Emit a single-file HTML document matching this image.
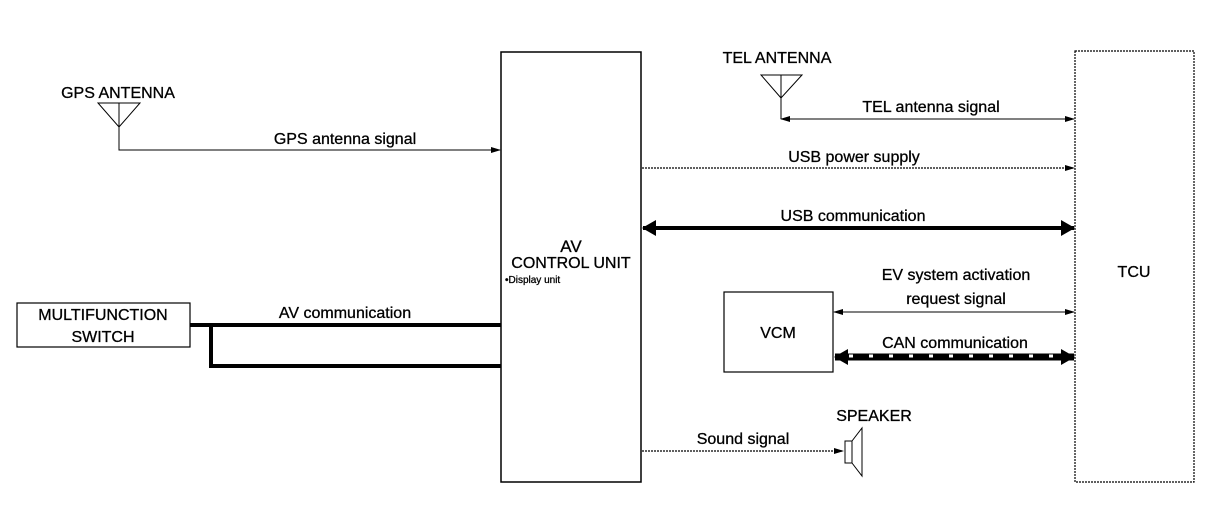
<!DOCTYPE html>
<html><head><meta charset="utf-8"><style>
html,body{margin:0;padding:0;background:#fff;}
svg text{font-family:"Liberation Sans",Arial,sans-serif;fill:#000;stroke:#000;stroke-width:0.3;}
</style></head><body>
<svg width="1216" height="512" viewBox="0 0 1216 512" xmlns="http://www.w3.org/2000/svg">
<defs>
<marker id="a" markerWidth="10" markerHeight="8" refX="9" refY="4" orient="auto-start-reverse" markerUnits="userSpaceOnUse"><path d="M0,1 L10,4 L0,7 Z" fill="#000"/></marker>
<marker id="b" markerWidth="14" markerHeight="16" refX="13" refY="8" orient="auto-start-reverse" markerUnits="userSpaceOnUse"><path d="M0,0 L14,8 L0,16 Z" fill="#000"/></marker>
</defs>
<rect x="501" y="52" width="140" height="430" fill="none" stroke="#000" stroke-width="1.5"/>
<text x="571" y="252" font-size="17" text-anchor="middle">AV</text>
<text x="571" y="268" font-size="16" text-anchor="middle">CONTROL UNIT</text>
<text x="505" y="283" font-size="10">•Display unit</text>
<rect x="1075" y="51" width="119" height="431" fill="none" stroke="#000" stroke-width="1.2" stroke-dasharray="2,1"/>
<text x="1134" y="277" font-size="16" text-anchor="middle">TCU</text>
<text x="118" y="98" font-size="16" text-anchor="middle">GPS ANTENNA</text>
<path d="M98,103 L140,103 L119,127 Z M119,103 L119,127" fill="none" stroke="#000" stroke-width="1"/>
<path d="M119,127 L119,150 L500,150" fill="none" stroke="#000" stroke-width="1" marker-end="url(#a)"/>
<text x="345" y="144" font-size="16" text-anchor="middle">GPS antenna signal</text>
<text x="777" y="63" font-size="16" text-anchor="middle">TEL ANTENNA</text>
<path d="M761,75 L802,75 L781,98 Z M781,75 L781,98" fill="none" stroke="#000" stroke-width="1"/>
<path d="M781,98 L781,119" stroke="#000" stroke-width="1"/>
<path d="M781,119 L1074,119" stroke="#000" stroke-width="1" marker-start="url(#a)" marker-end="url(#a)"/>
<text x="931" y="112" font-size="16" text-anchor="middle">TEL antenna signal</text>
<path d="M642,168 L1074,168" stroke="#000" stroke-width="1.2" stroke-dasharray="2,1" marker-end="url(#a)"/>
<text x="854" y="162" font-size="16" text-anchor="middle">USB power supply</text>
<path d="M643,228 L1074,228" stroke="#000" stroke-width="4" marker-start="url(#b)" marker-end="url(#b)"/>
<text x="853" y="221" font-size="16" text-anchor="middle">USB communication</text>
<rect x="724" y="292" width="109" height="80" fill="none" stroke="#000" stroke-width="1.2"/>
<text x="778" y="338" font-size="16" text-anchor="middle">VCM</text>
<text x="956" y="280" font-size="16" text-anchor="middle">EV system activation</text>
<text x="956" y="304" font-size="16" text-anchor="middle">request signal</text>
<path d="M834,312 L1074,312" stroke="#000" stroke-width="1" marker-start="url(#a)" marker-end="url(#a)"/>
<text x="955" y="348" font-size="16" text-anchor="middle">CAN communication</text>
<path d="M835,357 L1074,357" stroke="#000" stroke-width="7" marker-start="url(#b)" marker-end="url(#b)"/>
<path d="M849,356 L1062,356" stroke="#fff" stroke-width="3" stroke-dasharray="4,16"/>
<rect x="17" y="303" width="173" height="44" fill="none" stroke="#000" stroke-width="1.2"/>
<text x="103" y="320" font-size="16" text-anchor="middle">MULTIFUNCTION</text>
<text x="103" y="342" font-size="16" text-anchor="middle">SWITCH</text>
<text x="345" y="318" font-size="16" text-anchor="middle">AV communication</text>
<path d="M190,325 L501,325" stroke="#000" stroke-width="4"/>
<path d="M211,325 L211,366 L501,366" fill="none" stroke="#000" stroke-width="4"/>
<text x="874" y="421" font-size="16" text-anchor="middle">SPEAKER</text>
<path d="M642,451 L843,451" stroke="#000" stroke-width="1.2" stroke-dasharray="2,1" marker-end="url(#a)"/>
<text x="743" y="444" font-size="16" text-anchor="middle">Sound signal</text>
<rect x="845" y="441" width="7" height="22" fill="none" stroke="#000" stroke-width="1"/>
<path d="M852,441 L862,428 L862,476 L852,463" fill="none" stroke="#000" stroke-width="1"/>
</svg>
</body></html>
